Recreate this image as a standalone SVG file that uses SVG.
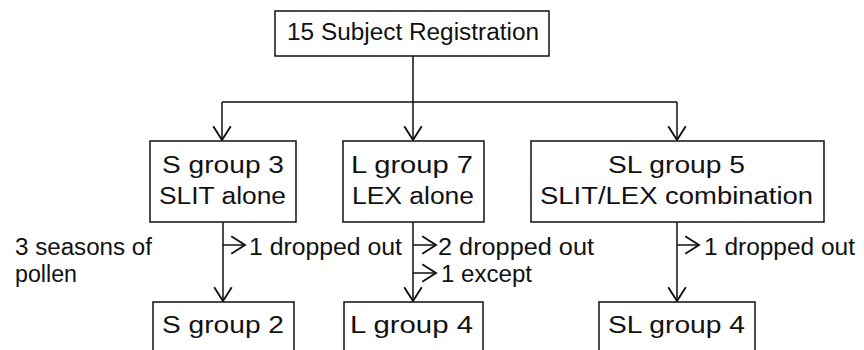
<svg xmlns="http://www.w3.org/2000/svg" width="864" height="350" viewBox="0 0 864 350">
<defs>
<marker id="arr" markerUnits="userSpaceOnUse" markerWidth="20" markerHeight="20" refX="0" refY="0" orient="auto" overflow="visible" viewBox="-12 -8 14 16">
<path d="M-11,-7 L0,0 L-11,7" fill="none" stroke="#111" stroke-width="1.5"/>
</marker>
<style>
.box{fill:#fff;stroke:#111;stroke-width:1.5}
.ln{fill:none;stroke:#111;stroke-width:1.5}
.ar{fill:none;stroke:#111;stroke-width:1.5;marker-end:url(#arr)}
text{font-family:"Liberation Sans",Arial,sans-serif;font-size:23px;fill:#111}
.c{text-anchor:middle}
</style>
</defs>
<rect width="864" height="350" fill="#fff"/>
<g id="connectors">
<path class="ln" d="M413,56 V102 M222,102 H677"/>
<path class="ar" d="M222,102 V140"/>
<path class="ar" d="M413,102 V140"/>
<path class="ar" d="M677,102 V140"/>
<path class="ar" d="M223,222 V301"/>
<path class="ar" d="M413,222 V301"/>
<path class="ar" d="M677,222 V301"/>
<path class="ar" d="M223,245 H245"/>
<path class="ar" d="M413,245 H436"/>
<path class="ar" d="M413,273 H436"/>
<path class="ar" d="M677,245 H699"/>
</g>
<g id="top"><rect class="box" x="275" y="11" width="274" height="45"/><text class="c" x="413" y="40" textLength="252" lengthAdjust="spacingAndGlyphs">15 Subject Registration</text></g>
<g id="s3"><rect class="box" x="150" y="141" width="146" height="81"/><text class="c" x="223" y="173" textLength="122" lengthAdjust="spacingAndGlyphs">S group 3</text><text class="c" x="222.5" y="204" textLength="127" lengthAdjust="spacingAndGlyphs">SLIT alone</text></g>
<g id="l7"><rect class="box" x="343" y="141" width="141" height="81"/><text class="c" x="412" y="173" textLength="122" lengthAdjust="spacingAndGlyphs">L group 7</text><text class="c" x="413" y="204" textLength="122" lengthAdjust="spacingAndGlyphs">LEX alone</text></g>
<g id="sl5"><rect class="box" x="531" y="141" width="293" height="81"/><text class="c" x="676.5" y="173" textLength="137" lengthAdjust="spacingAndGlyphs">SL group 5</text><text class="c" x="676.5" y="204" textLength="273" lengthAdjust="spacingAndGlyphs">SLIT/LEX combination</text></g>
<g id="s2"><rect class="box" x="153" y="302" width="141" height="60"/><text class="c" x="223" y="333" textLength="122" lengthAdjust="spacingAndGlyphs">S group 2</text></g>
<g id="l4"><rect class="box" x="344" y="302" width="139" height="60"/><text class="c" x="411.5" y="333" textLength="123" lengthAdjust="spacingAndGlyphs">L group 4</text></g>
<g id="sl4"><rect class="box" x="599" y="302" width="156" height="60"/><text class="c" x="676.5" y="333" textLength="137" lengthAdjust="spacingAndGlyphs">SL group 4</text></g>
<g id="labels">
<text x="15" y="255" textLength="137" lengthAdjust="spacingAndGlyphs">3 seasons of</text>
<text x="15" y="282" textLength="62" lengthAdjust="spacingAndGlyphs">pollen</text>
<text x="249" y="255" textLength="153" lengthAdjust="spacingAndGlyphs">1 dropped out</text>
<text x="438" y="255" textLength="156" lengthAdjust="spacingAndGlyphs">2 dropped out</text>
<text x="441" y="282" textLength="91" lengthAdjust="spacingAndGlyphs">1 except</text>
<text x="704" y="255" textLength="151" lengthAdjust="spacingAndGlyphs">1 dropped out</text>
</g>
</svg>
